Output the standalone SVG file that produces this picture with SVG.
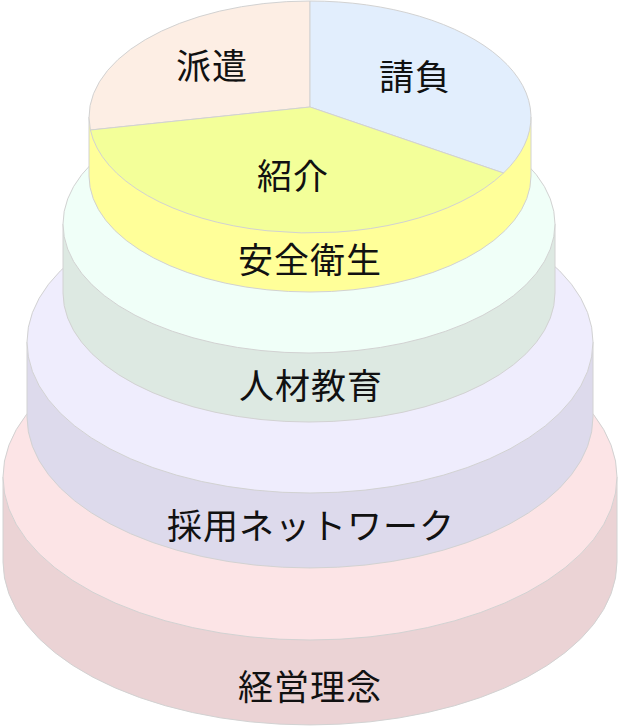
<svg xmlns="http://www.w3.org/2000/svg" width="620" height="727" viewBox="0 0 620 727">
<style>
  .edge { stroke: #d2d2d2; stroke-width: 1; }
  .lbl { font-family: "Noto Sans CJK JP", "Noto Sans CJK SC", sans-serif; font-size: 35px; fill: #111; text-anchor: middle; letter-spacing: 1px; }
</style>
<rect width="620" height="727" fill="#ffffff"/>
<g id="keiei">
  <path class="edge" fill="#ebd3d5" d="M3,477 L3,562 A307,163 0 0 0 617,562 L617,477 Z"/>
  <ellipse class="edge" fill="#fce4e6" cx="310" cy="477" rx="307" ry="163"/>
  <text class="lbl" x="310" y="700">経営理念</text>
</g>
<g id="saiyou">
  <path class="edge" fill="#dddaec" d="M27,342 L27,417 A283,151 0 0 0 593,417 L593,342 Z"/>
  <ellipse class="edge" fill="#efedfd" cx="310" cy="342" rx="283" ry="151"/>
  <text class="lbl" x="311" y="539">採用ネットワーク</text>
</g>
<g id="jinzai">
  <path class="edge" fill="#dde9e2" d="M63,224 L63,293 A246,129 0 0 0 555,293 L555,224 Z"/>
  <ellipse class="edge" fill="#f0fff8" cx="309" cy="224" rx="246" ry="129"/>
  <text class="lbl" x="311" y="399">人材教育</text>
</g>
<g id="anzen">
  <path class="edge" fill="#ffff99" d="M89,117 L89,176 A221,116 0 0 0 531,176 L531,117 Z"/>
  <text class="lbl" x="310" y="273">安全衛生</text>
</g>
<g id="haken">
  <path class="edge" fill="#fdeee4" d="M310,107 L310,1 A221,116 0 0 0 90.4,130 Z"/>
  <text class="lbl" x="212" y="79">派遣</text>
</g>
<g id="ukeoi">
  <path class="edge" fill="#e2eefd" d="M310,107 L310,1 A221,116 0 0 1 503.5,173 Z"/>
  <text class="lbl" x="415" y="90">請負</text>
</g>
<g id="shoukai">
  <path class="edge" fill="#f3ff99" d="M310,107 L503.5,173 A221,116 0 0 1 90.4,130 Z"/>
  <text class="lbl" x="293" y="189">紹介</text>
</g>
</svg>
